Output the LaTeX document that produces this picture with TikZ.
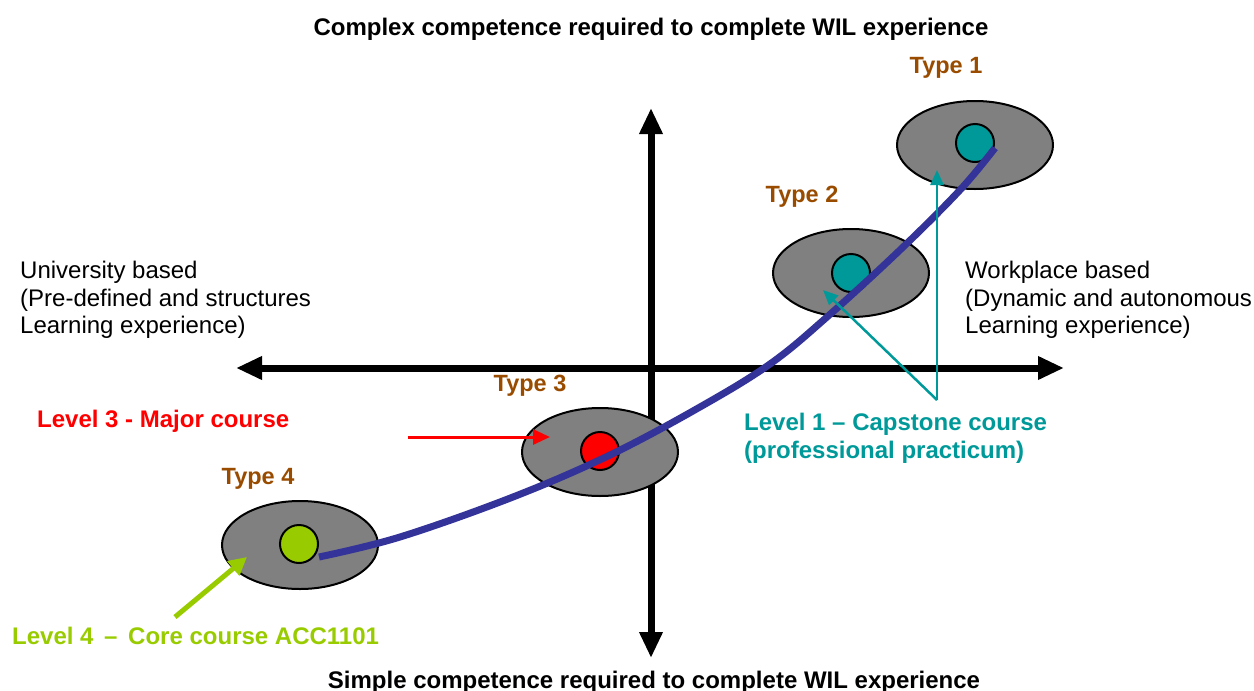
\documentclass[tikz,border=0pt]{standalone}
\usepackage{fontspec}
\setmainfont{Liberation Sans}
\usetikzlibrary{arrows.meta,shapes.geometric}
\definecolor{typebrown}{RGB}{153,76,0}
\definecolor{tealc}{RGB}{0,153,153}
\definecolor{limec}{RGB}{153,204,0}
\definecolor{pathblue}{RGB}{51,51,153}
\definecolor{redc}{RGB}{255,0,0}
\tikzset{
  blob/.style={ellipse,draw=black,line width=2pt,fill=black!50,minimum width=156pt,minimum height=88pt,inner sep=0pt},
  dot/.style={circle,draw=black,line width=2pt,minimum size=38pt,inner sep=0pt},
  typelbl/.style={text=typebrown,font=\fontsize{23.5}{27}\selectfont\bfseries,inner sep=0pt},
  sidetxt/.style={align=left,anchor=north west,font=\fontsize{24}{27.5}\selectfont,inner sep=0pt},
  heading/.style={font=\fontsize{24}{28}\selectfont\bfseries,inner sep=0pt},
  levlbl/.style={font=\fontsize{24}{28}\selectfont\bfseries,inner sep=0pt,align=left,anchor=west},
  axis/.style={line width=7pt,{Triangle[length=26pt,width=22pt]}-{Triangle[length=26pt,width=22pt]}},
}
\begin{document}
\begin{tikzpicture}[x=1pt,y=-1pt]
\useasboundingbox (0,0) rectangle (1254,691);

% axes
\coordinate (xl) at (236,368);
\coordinate (xr) at (1064,368);
\coordinate (yt) at (651,108);
\coordinate (yb) at (651,658);
\draw[axis] (xl) -- (xr);
\draw[axis] (yt) -- (yb);

% headings
\node[heading] (top) at (651,29) {Complex competence required to complete WIL experience};
\node[heading] (bot) at (654,682) {Simple competence required to complete WIL experience};

% side descriptions
\node[sidetxt] (uni) at (20,261) {University based\\(Pre-defined and structures\\Learning experience)};
\node[sidetxt] (work) at (965,261) {Workplace based\\(Dynamic and autonomous\\Learning experience)};

% the four experience types
\node[blob] (e1) at (975,145) {};
\node[blob] (e2) at (851,273) {};
\node[blob] (e3) at (600,452) {};
\node[blob] (e4) at (300,545) {};
\node[dot,fill=tealc] (c1) at (975,143) {};
\node[dot,fill=tealc] (c2) at (851,273) {};
\node[dot,fill=redc] (c3) at (600,451) {};
\node[dot,fill=limec] (c4) at (299,544) {};

\node[typelbl] (t1) at (946,68) {Type 1};
\node[typelbl] (t2) at (802,197) {Type 2};
\node[typelbl] (t3) at (530,386) {Type 3};
\node[typelbl] (t4) at (258,479) {Type 4};

% progression path
\draw[pathblue,line width=7pt] plot[smooth,tension=0.6] coordinates
  {(319,557) (400,537) (513,497) (610,455) (700,407) (770,364) (827,317) (900,250) (960,190) (995,148)};

% course level labels
\node[levlbl,text=redc] (l3) at (37,421) {Level 3 - Major course};
\node[levlbl,text=tealc] (l1) at (744,438) {Level 1 -- Capstone course\\(professional practicum)};
\node[levlbl,text=limec] (l4) at (12,636) {Level 4 \,--\, Core course ACC1101};

% pointers
\coordinate (rs) at (408,437);
\coordinate (re) at (550,437);
\draw[redc,line width=3pt,-{Triangle[length=17pt,width=15pt]}] (rs) -- (re);
\coordinate (tv) at (937,400);
\coordinate (te1) at (937,170);
\coordinate (te2) at (823,290);
\draw[tealc,line width=2.5pt,-{Triangle[length=15pt,width=13pt]}] (tv) -- (te1);
\draw[tealc,line width=2.5pt,-{Triangle[length=15pt,width=13pt]}] (tv) -- (te2);
\coordinate (gs) at (175,617);
\coordinate (ge) at (247,557);
\draw[limec,line width=5pt,-{Triangle[length=18pt,width=18pt]}] (gs) -- (ge);
\end{tikzpicture}
\end{document}
